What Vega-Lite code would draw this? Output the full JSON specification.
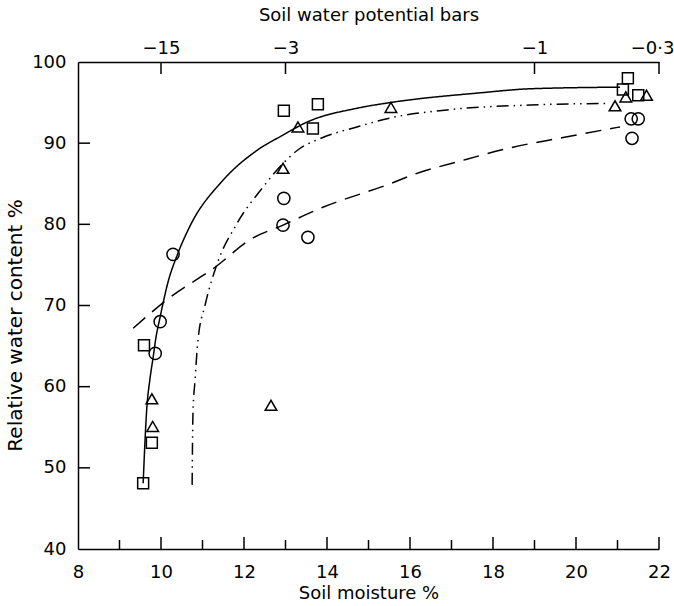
{
  "$schema": "https://vega.github.io/schema/vega-lite/v6.json",
  "width": 581,
  "height": 487,
  "autosize": {"type": "none"},
  "padding": {"left": 78, "top": 62, "right": 15, "bottom": 57},
  "background": "white",
  "config": {
    "view": {"stroke": null},
    "font": "DejaVu Sans",
    "axis": {
      "domainColor": "black",
      "domainWidth": 1.5,
      "labelColor": "black",
      "titleColor": "black",
      "labelFont": "DejaVu Sans",
      "titleFont": "DejaVu Sans",
      "labelFontSize": 18,
      "titleFontSize": 18,
      "titleFontWeight": "normal",
      "grid": false,
      "ticks": false,
      "labelFlush": false,
      "labelOverlap": false
    }
  },
  "datasets": {
    "points": [
      {"moisture": 9.57, "rwc": 48.1, "series": "square"},
      {"moisture": 9.78, "rwc": 53.1, "series": "square"},
      {"moisture": 9.59, "rwc": 65.1, "series": "square"},
      {"moisture": 12.96, "rwc": 94.0, "series": "square"},
      {"moisture": 13.78, "rwc": 94.8, "series": "square"},
      {"moisture": 13.66, "rwc": 91.8, "series": "square"},
      {"moisture": 21.25, "rwc": 98.0, "series": "square"},
      {"moisture": 21.13, "rwc": 96.6, "series": "square"},
      {"moisture": 21.5, "rwc": 95.9, "series": "square"},
      {"moisture": 9.78, "rwc": 58.5, "series": "triangle"},
      {"moisture": 9.8, "rwc": 55.1, "series": "triangle"},
      {"moisture": 12.65, "rwc": 57.7, "series": "triangle"},
      {"moisture": 12.94, "rwc": 86.9, "series": "triangle"},
      {"moisture": 13.3, "rwc": 92.0, "series": "triangle"},
      {"moisture": 15.54, "rwc": 94.4, "series": "triangle"},
      {"moisture": 20.94, "rwc": 94.6, "series": "triangle"},
      {"moisture": 21.2, "rwc": 95.7, "series": "triangle"},
      {"moisture": 21.7, "rwc": 95.9, "series": "triangle"},
      {"moisture": 10.29, "rwc": 76.3, "series": "circle"},
      {"moisture": 9.98, "rwc": 68.0, "series": "circle"},
      {"moisture": 9.86, "rwc": 64.1, "series": "circle"},
      {"moisture": 12.96, "rwc": 83.2, "series": "circle"},
      {"moisture": 12.94, "rwc": 79.9, "series": "circle"},
      {"moisture": 13.54, "rwc": 78.4, "series": "circle"},
      {"moisture": 21.33, "rwc": 93.0, "series": "circle"},
      {"moisture": 21.5, "rwc": 93.0, "series": "circle"},
      {"moisture": 21.35, "rwc": 90.6, "series": "circle"}
    ],
    "curves": [
      {"moisture": 9.57, "rwc": 48.1, "curve": "solid"},
      {"moisture": 9.66, "rwc": 57.5, "curve": "solid"},
      {"moisture": 9.73, "rwc": 60.8, "curve": "solid"},
      {"moisture": 9.81, "rwc": 63.6, "curve": "solid"},
      {"moisture": 9.88, "rwc": 66.1, "curve": "solid"},
      {"moisture": 9.98, "rwc": 68.6, "curve": "solid"},
      {"moisture": 10.05, "rwc": 70.3, "curve": "solid"},
      {"moisture": 10.17, "rwc": 72.9, "curve": "solid"},
      {"moisture": 10.39, "rwc": 76.2, "curve": "solid"},
      {"moisture": 10.7, "rwc": 79.8, "curve": "solid"},
      {"moisture": 11.49, "rwc": 85.4, "curve": "solid"},
      {"moisture": 12.31, "rwc": 89.1, "curve": "solid"},
      {"moisture": 12.94, "rwc": 91.0, "curve": "solid"},
      {"moisture": 13.52, "rwc": 92.6, "curve": "solid"},
      {"moisture": 14.72, "rwc": 94.3, "curve": "solid"},
      {"moisture": 15.52, "rwc": 95.0, "curve": "solid"},
      {"moisture": 17.69, "rwc": 96.2, "curve": "solid"},
      {"moisture": 18.89, "rwc": 96.7, "curve": "solid"},
      {"moisture": 21.06, "rwc": 96.9, "curve": "solid"},
      {"moisture": 10.75, "rwc": 47.9, "curve": "dashdot"},
      {"moisture": 10.77, "rwc": 56.7, "curve": "dashdot"},
      {"moisture": 10.82, "rwc": 60.8, "curve": "dashdot"},
      {"moisture": 10.89, "rwc": 65.7, "curve": "dashdot"},
      {"moisture": 11.06, "rwc": 70.0, "curve": "dashdot"},
      {"moisture": 11.35, "rwc": 75.1, "curve": "dashdot"},
      {"moisture": 11.83, "rwc": 80.1, "curve": "dashdot"},
      {"moisture": 12.46, "rwc": 84.6, "curve": "dashdot"},
      {"moisture": 12.94, "rwc": 87.5, "curve": "dashdot"},
      {"moisture": 13.28, "rwc": 89.1, "curve": "dashdot"},
      {"moisture": 13.9, "rwc": 90.7, "curve": "dashdot"},
      {"moisture": 14.72, "rwc": 92.0, "curve": "dashdot"},
      {"moisture": 15.52, "rwc": 93.1, "curve": "dashdot"},
      {"moisture": 16.89, "rwc": 94.1, "curve": "dashdot"},
      {"moisture": 18.89, "rwc": 94.7, "curve": "dashdot"},
      {"moisture": 20.75, "rwc": 94.9, "curve": "dashdot"},
      {"moisture": 9.33, "rwc": 67.2, "curve": "dash"},
      {"moisture": 10.14, "rwc": 70.7, "curve": "dash"},
      {"moisture": 11.35, "rwc": 74.9, "curve": "dash"},
      {"moisture": 12.14, "rwc": 78.1, "curve": "dash"},
      {"moisture": 12.94, "rwc": 79.9, "curve": "dash"},
      {"moisture": 13.9, "rwc": 82.1, "curve": "dash"},
      {"moisture": 15.52, "rwc": 85.0, "curve": "dash"},
      {"moisture": 16.07, "rwc": 86.1, "curve": "dash"},
      {"moisture": 17.28, "rwc": 87.9, "curve": "dash"},
      {"moisture": 18.48, "rwc": 89.5, "curve": "dash"},
      {"moisture": 19.69, "rwc": 90.7, "curve": "dash"},
      {"moisture": 21.06, "rwc": 92.0, "curve": "dash"}
    ],
    "yticks": [
      {"rwc": 50}, {"rwc": 60}, {"rwc": 70}, {"rwc": 80}, {"rwc": 90}
    ],
    "xticks": [
      {"moisture": 9, "kind": "minor"},
      {"moisture": 10, "kind": "major"},
      {"moisture": 11, "kind": "minor"},
      {"moisture": 12, "kind": "major"},
      {"moisture": 13, "kind": "minor"},
      {"moisture": 14, "kind": "major"},
      {"moisture": 15, "kind": "minor"},
      {"moisture": 16, "kind": "major"},
      {"moisture": 17, "kind": "minor"},
      {"moisture": 18, "kind": "major"},
      {"moisture": 19, "kind": "minor"},
      {"moisture": 20, "kind": "major"},
      {"moisture": 21, "kind": "minor"},
      {"moisture": 22, "kind": "major"}
    ],
    "topticks": [
      {"moisture": 10}, {"moisture": 13}, {"moisture": 19}, {"moisture": 22}
    ]
  },
  "layer": [
    {
      "data": {"name": "curves"},
      "mark": {"type": "line", "color": "black", "strokeWidth": 1.5, "interpolate": "monotone"},
      "encoding": {
        "x": {
          "field": "moisture",
          "type": "quantitative",
          "scale": {"domain": [8, 22], "nice": false, "zero": false},
          "axis": {
            "orient": "bottom",
            "title": "Soil moisture %",
            "values": [8, 10, 12, 14, 16, 18, 20, 22],
            "labelPadding": 14,
            "titleY": 49,
            "titleBaseline": "alphabetic"
          }
        },
        "y": {
          "field": "rwc",
          "type": "quantitative",
          "scale": {"domain": [40, 100], "nice": false, "zero": false},
          "axis": {
            "orient": "left",
            "title": "Relative  water  content  %",
            "titleFontSize": 20,
            "values": [40, 50, 60, 70, 80, 90, 100],
            "labelPadding": 12,
            "titleX": -57,
            "titleY": 263,
            "titleBaseline": "alphabetic"
          }
        },
        "strokeDash": {
          "field": "curve",
          "type": "nominal",
          "scale": {"domain": ["solid", "dashdot", "dash"], "range": [[1, 0], [12, 5, 1.5, 5, 1.5, 5], [16, 9]]},
          "legend": null
        }
      }
    },
    {
      "data": {"name": "points"},
      "mark": {"type": "point", "filled": false, "color": "black", "strokeWidth": 1.5, "opacity": 1},
      "encoding": {
        "x": {
          "field": "moisture",
          "type": "quantitative",
          "axis": {
            "orient": "top",
            "title": "Soil water potential bars",
            "values": [10, 13, 19, 22],
            "labelExpr": "datum.value == 10 ? '−15' : datum.value == 13 ? '−3' : datum.value == 19 ? '−1' : '−0·3'",
            "labelPadding": 5,
            "labelFlush": 5,
            "labelFlushOffset": 15,
            "titleY": -42,
            "titleBaseline": "alphabetic"
          }
        },
        "y": {"field": "rwc", "type": "quantitative", "axis": null},
        "shape": {
          "field": "series",
          "type": "nominal",
          "scale": {"domain": ["square", "triangle", "circle"], "range": ["square", "triangle-up", "circle"]},
          "legend": null
        },
        "size": {
          "field": "series",
          "type": "nominal",
          "scale": {"domain": ["square", "triangle", "circle"], "range": [120, 150, 110]},
          "legend": null
        }
      }
    },
    {
      "data": {"name": "yticks"},
      "mark": {"type": "rule", "color": "black", "strokeWidth": 1.5, "x2Offset": 12},
      "encoding": {
        "y": {"field": "rwc", "type": "quantitative", "axis": null},
        "x": {"datum": 8, "type": "quantitative", "axis": null},
        "x2": {"datum": 8}
      }
    },
    {
      "data": {"name": "xticks"},
      "transform": [{"filter": "datum.kind == 'major'"}],
      "mark": {"type": "rule", "color": "black", "strokeWidth": 1.5, "y2Offset": -12},
      "encoding": {
        "x": {"field": "moisture", "type": "quantitative", "axis": null},
        "y": {"datum": 40, "type": "quantitative", "axis": null},
        "y2": {"datum": 40}
      }
    },
    {
      "data": {"name": "xticks"},
      "transform": [{"filter": "datum.kind == 'minor'"}],
      "mark": {"type": "rule", "color": "black", "strokeWidth": 1.5, "y2Offset": -9},
      "encoding": {
        "x": {"field": "moisture", "type": "quantitative", "axis": null},
        "y": {"datum": 40, "type": "quantitative", "axis": null},
        "y2": {"datum": 40}
      }
    },
    {
      "data": {"name": "topticks"},
      "mark": {"type": "rule", "color": "black", "strokeWidth": 1.5, "y2Offset": 12},
      "encoding": {
        "x": {"field": "moisture", "type": "quantitative", "axis": null},
        "y": {"datum": 100, "type": "quantitative", "axis": null},
        "y2": {"datum": 100}
      }
    }
  ],
  "resolve": {"axis": {"x": "independent", "y": "independent"}}
}
